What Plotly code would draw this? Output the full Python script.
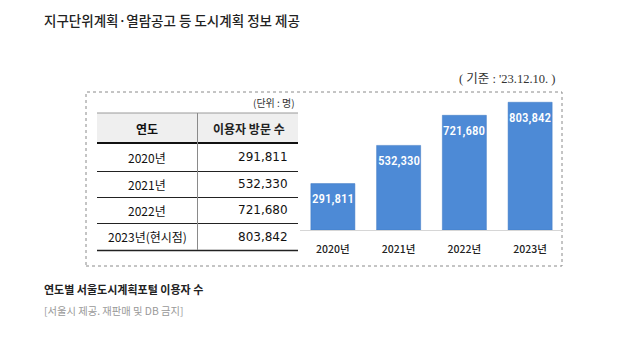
import plotly.graph_objects as go

# Seoul urban-planning portal: yearly visitor counts
years = ["2020년", "2021년", "2022년", "2023년"]
table_years = ["2020년", "2021년", "2022년", "2023년(현시점)"]
visitors = [291811, 532330, 721680, 803842]

title_text = "지구단위계획·열람공고 등 도시계획 정보 제공"
caption_text = "연도별 서울도시계획포털 이용자 수"
source_text = "[서울시 제공. 재판매 및 DB 금지]"
asof_text = "( 기준 : '23.12.10. )"
unit_text = "(단위 : 명)"
header_cols = ["연도", "이용자 방문 수"]

W, H = 631, 337
KR = "Noto Sans CJK KR"


def px(x):
    return x / W


def py(y):
    return 1 - y / H


def label(text, x, y, xanchor="center", **font):
    return dict(text=text, x=px(x), y=py(y), xref="paper", yref="paper",
                xanchor=xanchor, yanchor="middle", showarrow=False, font=font)


fig = go.Figure()

fig.add_trace(go.Bar(
    x=years,
    y=visitors,
    marker=dict(color="#4d8ad6", line=dict(color="#3f78c2", width=0.5)),
    width=0.67,
    hoverinfo="skip",
))

shapes = []
annotations = []

# value labels sitting just inside the top of each bar
for yr, v in zip(years, visitors):
    annotations.append(dict(text=f"{v:,}", x=yr, y=v, xref="x", yref="y",
                            xanchor="center", yanchor="middle", yshift=-15, showarrow=False,
                            font=dict(family="Roboto Condensed, Roboto", size=13,
                                      color="white", weight=500)))

# dotted frame around table + chart
shapes.append(dict(type="rect", xref="paper", yref="paper",
                   x0=px(86), x1=px(562), y0=py(266), y1=py(92),
                   line=dict(color="#8a8a8a", width=1, dash="dot"),
                   fillcolor="rgba(0,0,0,0)", layer="below"))

# table geometry
tx0, tx1, tdiv = 97, 298, 197
head_top, head_bot = 113, 143
row_lines = [171, 197, 223, 250]

# header background and rules
shapes.append(dict(type="rect", xref="paper", yref="paper",
                   x0=px(tx0), x1=px(tx1), y0=py(head_bot), y1=py(head_top),
                   fillcolor="#efefef", line=dict(width=0), layer="below"))
shapes.append(dict(type="line", xref="paper", yref="paper",
                   x0=px(tx0), x1=px(tx1), y0=py(head_top), y1=py(head_top),
                   line=dict(color="#9a9a9a", width=1)))
shapes.append(dict(type="line", xref="paper", yref="paper",
                   x0=px(tx0), x1=px(tx1), y0=py(head_bot), y1=py(head_bot),
                   line=dict(color="#111111", width=2.2)))
for i, yl in enumerate(row_lines):
    shapes.append(dict(type="line", xref="paper", yref="paper",
                       x0=px(tx0), x1=px(tx1), y0=py(yl + 0.5), y1=py(yl + 0.5),
                       line=dict(color="#222222", width=1.5 if i == len(row_lines) - 1 else 1)))
shapes.append(dict(type="line", xref="paper", yref="paper",
                   x0=px(tdiv + 0.5), x1=px(tdiv + 0.5), y0=py(row_lines[-1]), y1=py(head_top),
                   line=dict(color="#8a8a8a", width=1)))

# header text
annotations.append(label(f"<b>{header_cols[0]}</b>", 147, 128, family=KR, size=12, color="#111"))
annotations.append(label(f"<b>{header_cols[1]}</b>", 249, 128, family=KR, size=12, color="#222"))
annotations.append(label(unit_text, 297, 102, "right", family=KR, size=10, color="#333"))

# table rows
row_tops = [head_bot] + row_lines[:-1]
for i in range(len(visitors)):
    yc = (row_tops[i] + row_lines[i]) / 2
    annotations.append(label(table_years[i], 147, yc, family=KR, size=12, color="#111"))
    annotations.append(label(f"{visitors[i]:,}", 290, yc, "right",
                             family="DejaVu Sans", size=12, color="#111"))

# page texts
annotations.append(label(title_text, 42, 20, "left", family=KR, size=13.5, color="#222", weight=500))
annotations.append(label(asof_text, 557, 79, "right",
                         family="Liberation Serif, " + KR, size=12.5, color="#333"))
annotations.append(label(f"<b>{caption_text}</b>", 42, 289, "left", family=KR, size=11, color="#222"))
annotations.append(label(source_text, 42, 310, "left", family=KR, size=10.3, color="#999"))

fig.update_layout(
    width=W, height=H,
    margin=dict(l=0, r=0, t=0, b=0),
    paper_bgcolor="white", plot_bgcolor="white",
    showlegend=False,
    bargap=0.33,
    shapes=shapes,
    annotations=annotations,
    xaxis=dict(domain=[px(300), px(563)], range=[-0.5, 3.5],
               showline=True, linecolor="#d6d6d6", linewidth=1,
               showgrid=False, ticks="", ticklabelstandoff=9,
               tickfont=dict(family=KR, size=10.5, color="#222", weight=500)),
    yaxis=dict(domain=[py(230), py(100)], range=[0, 818000],
               visible=False, showgrid=False, zeroline=False),
)

fig.write_html("out.html")
